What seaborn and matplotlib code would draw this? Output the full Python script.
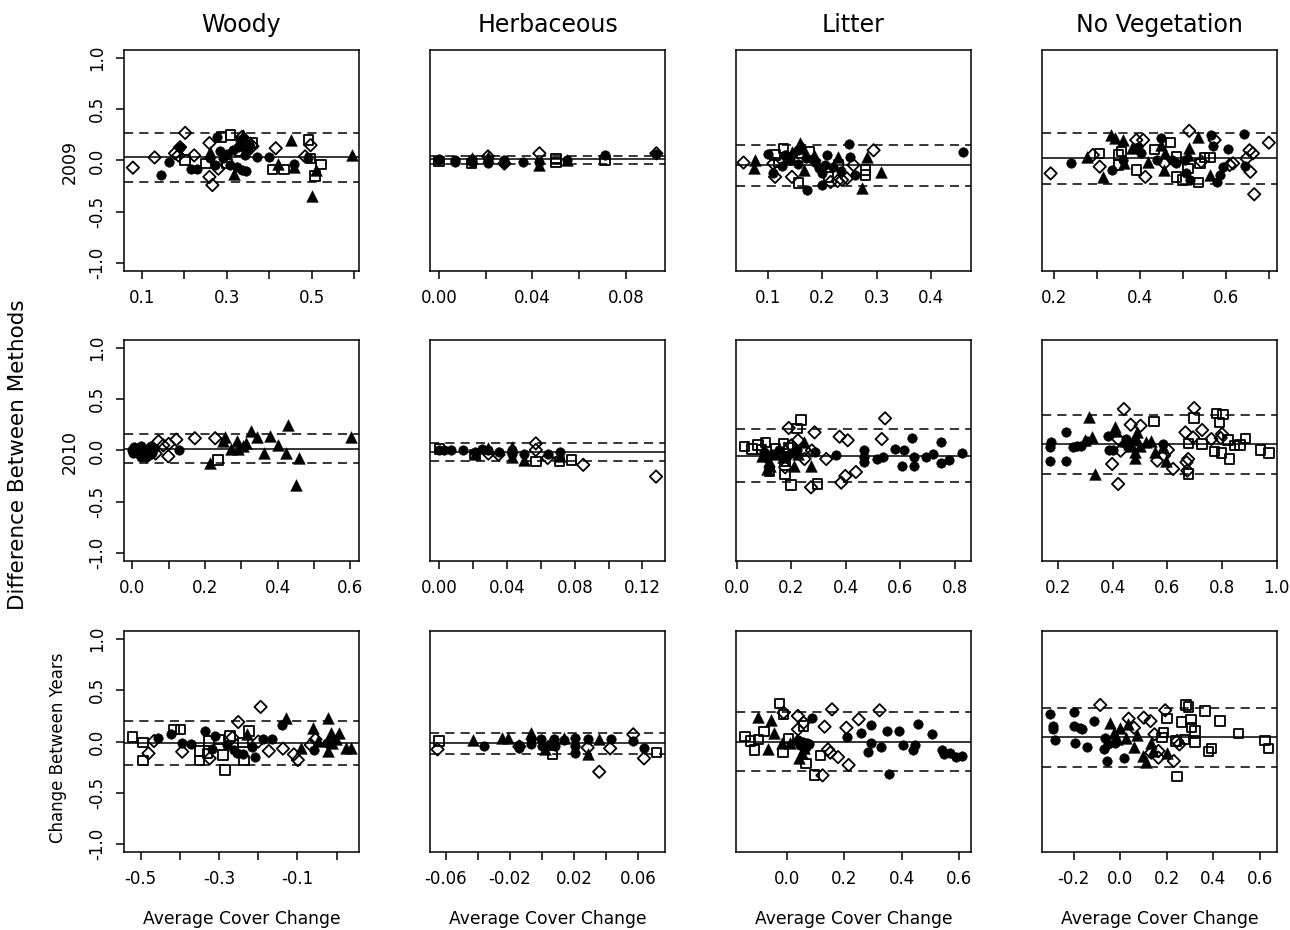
import numpy as np
import pandas as pd
import matplotlib
matplotlib.use("Agg")
import matplotlib.pyplot as plt
import seaborn as sns

# ---------------- labels ----------------
cover_types = ["Woody", "Herbaceous", "Litter", "No Vegetation"]
row_labels = ["2009", "2010", "Change Between Years"]
y_label = "Difference Between Methods"
x_label = "Average Cover Change"

# ---------------- data (average, difference) ----------------
# Row 1: 2009
W09_circles = [(0.146,-0.14),(0.165,-0.01),(0.189,0.13),(0.215,-0.08),(0.229,-0.08),(0.272,-0.045),(0.284,0.09),
               (0.292,0.02),(0.308,-0.045),(0.323,-0.06),(0.335,-0.09),(0.327,0.135),(0.343,0.054),(0.331,0.20),
               (0.370,0.03),(0.400,0.03),(0.457,-0.03),(0.492,0.02),(0.278,0.23),(0.30,0.06),(0.315,0.10),
               (0.35,0.10),(0.26,0.02),(0.345,-0.10)]
W09_triangles = [(0.316,-0.13),(0.339,0.25),(0.421,-0.03),(0.450,0.20),(0.457,-0.06),(0.51,-0.09),(0.501,-0.35),
                 (0.594,0.054),(0.34,0.15),(0.355,0.18),(0.26,0.08)]
W09_squares = [(0.202,0.005),(0.251,-0.03),(0.288,0.23),(0.308,0.25),(0.300,-0.03),(0.359,0.17),(0.407,-0.09),
               (0.435,-0.09),(0.492,0.20),(0.497,0.02),(0.507,-0.15),(0.522,-0.04),(0.33,0.09)]
W09_diamonds = [(0.079,-0.07),(0.130,0.03),(0.178,0.07),(0.19,0.13),(0.202,0.27),(0.186,0.05),(0.223,0.05),
                (0.259,0.17),(0.259,-0.16),(0.266,-0.24),(0.336,0.23),(0.36,0.14),(0.415,0.12),(0.484,0.04),
                (0.497,0.15),(0.28,-0.08)]

H09_circles = [(0.0,0.0),(0.007,0.0),(0.014,0.01),(0.021,0.01),(0.028,-0.02),(0.036,-0.01),(0.043,-0.01),
               (0.055,0.0),(0.071,0.05),(0.093,0.06),(0.0,0.01),(0.007,-0.01),(0.014,-0.01),(0.021,-0.02),(0.028,0.0)]
H09_triangles = [(0.043,-0.04),(0.055,0.0),(0.021,0.03),(0.014,0.02)]
H09_squares = [(0.014,-0.03),(0.050,-0.02),(0.050,0.02),(0.071,0.0),(0.0,-0.01)]
H09_diamonds = [(0.043,0.07),(0.093,0.07),(0.021,0.04),(0.028,-0.03)]

L09_circles = [(0.1,0.06),(0.110,-0.125),(0.132,0.054),(0.156,0.10),(0.172,-0.29),(0.156,-0.03),(0.187,-0.01),
               (0.193,-0.077),(0.199,-0.125),(0.208,0.054),(0.205,-0.044),(0.199,-0.24),(0.249,0.16),(0.251,0.037),
               (0.259,-0.14),(0.458,0.086),(0.14,0.0),(0.17,0.02),(0.22,-0.06),(0.235,-0.10),(0.125,-0.05)]
L09_triangles = [(0.077,0.005),(0.075,-0.077),(0.159,0.17),(0.166,-0.093),(0.184,0.054),(0.229,0.037),
                 (0.282,0.037),(0.273,-0.27),(0.308,-0.115),(0.145,0.08),(0.165,0.12)]
L09_squares = [(0.113,0.054),(0.129,0.12),(0.162,0.07),(0.156,-0.22),(0.211,-0.16),(0.230,-0.044),(0.279,-0.093),
               (0.279,-0.14),(0.12,-0.02),(0.175,0.09)]
L09_diamonds = [(0.055,-0.02),(0.110,-0.03),(0.113,-0.16),(0.144,-0.16),(0.215,-0.21),(0.236,-0.19),(0.245,-0.175),
                (0.257,-0.044),(0.294,0.10),(0.228,-0.20),(0.185,0.0),(0.135,0.03)]

N09_circles = [(0.241,-0.02),(0.336,-0.093),(0.361,0.005),(0.396,0.135),(0.404,0.07),(0.439,0.005),(0.450,0.22),
               (0.474,0.005),(0.485,-0.028),(0.505,0.005),(0.507,-0.126),(0.516,-0.19),(0.565,0.25),(0.571,0.14),
               (0.580,-0.21),(0.586,-0.14),(0.594,-0.06),(0.604,0.11),(0.643,0.26),(0.644,-0.054)]
N09_triangles = [(0.278,0.03),(0.315,-0.16),(0.334,0.25),(0.343,0.22),(0.361,0.20),(0.364,-0.028),(0.382,0.12),
                 (0.419,-0.01),(0.450,0.15),(0.458,0.07),(0.457,-0.093),(0.515,0.12),(0.512,0.054),(0.536,0.226),
                 (0.564,-0.14)]
N09_squares = [(0.307,0.07),(0.350,0.054),(0.350,-0.044),(0.357,0.086),(0.392,-0.093),(0.435,0.11),(0.472,0.174),
               (0.485,0.037),(0.485,-0.16),(0.501,-0.19),(0.512,-0.077),(0.536,-0.217),(0.540,-0.028),(0.551,0.03),
               (0.563,0.03)]
N09_diamonds = [(0.193,-0.126),(0.291,0.054),(0.307,-0.06),(0.392,0.20),(0.408,0.20),(0.413,-0.16),(0.457,-0.028),
                (0.515,0.29),(0.543,-0.01),(0.574,0.20),(0.609,-0.044),(0.617,-0.028),(0.648,0.02),(0.655,0.10),
                (0.663,0.07),(0.657,-0.11),(0.666,-0.33),(0.700,0.174)]

# Row 2: 2010
W10_circles = [(0.0,0.0),(0.005,0.03),(0.014,-0.02),(0.023,0.047),(0.028,-0.034),(0.037,-0.067),(0.041,0.015),
               (0.050,0.047),(0.055,-0.02),(0.018,0.015),(0.003,-0.02),(0.032,0.0),(0.045,-0.04),(0.01,0.005),
               (0.06,0.02),(0.025,-0.06),(0.128,0.0)]
W10_triangles = [(0.213,-0.125),(0.255,0.13),(0.25,0.09),(0.271,0.015),(0.289,0.09),(0.292,0.015),(0.314,0.07),
                 (0.328,0.19),(0.342,0.13),(0.363,-0.024),(0.379,0.145),(0.4,0.054),(0.422,-0.024),(0.429,0.25),
                 (0.459,-0.073),(0.45,-0.337),(0.601,0.13),(0.305,0.04)]
W10_squares = [(0.236,-0.093)]
W10_diamonds = [(0.072,0.09),(0.064,-0.03),(0.10,0.064),(0.099,-0.057),(0.121,0.106),(0.172,0.12),(0.228,0.12),
                (0.085,0.05)]

H10_circles = [(0.0,0.0),(0.007,0.0),(0.014,0.0),(0.021,-0.01),(0.029,0.0),(0.035,-0.01),(0.043,-0.03),(0.050,-0.03),
               (0.064,-0.03),(0.071,-0.01),(0.043,0.0),(0.003,0.005),(0.025,0.01)]
H10_triangles = [(0.021,-0.03),(0.029,0.02),(0.043,0.03),(0.050,-0.093),(0.071,-0.05),(0.043,-0.06)]
H10_squares = [(0.0,0.015),(0.057,-0.11),(0.071,-0.11),(0.078,-0.093),(0.021,-0.04)]
H10_diamonds = [(0.057,0.07),(0.057,0.005),(0.064,-0.073),(0.085,-0.14),(0.128,-0.255),(0.035,-0.04),(0.029,-0.03)]

L10_circles = [(0.098,-0.018),(0.128,-0.034),(0.153,0.0),(0.183,-0.05),(0.22,0.0),(0.287,-0.018),(0.365,-0.04),
               (0.465,0.0),(0.465,-0.06),(0.465,-0.115),(0.514,-0.083),(0.535,-0.06),(0.579,0.015),(0.614,0.0),
               (0.608,-0.155),(0.642,0.122),(0.651,-0.066),(0.651,-0.155),(0.694,-0.066),(0.722,-0.034),(0.75,0.08),
               (0.75,-0.122),(0.779,-0.093),(0.828,-0.024),(0.11,-0.07),(0.2,-0.02)]
L10_triangles = [(0.092,-0.05),(0.116,-0.099),(0.122,-0.148),(0.11,-0.18),(0.208,-0.148),(0.208,0.015),(0.245,0.08),
                 (0.273,-0.148),(0.226,-0.034),(0.14,-0.03),(0.17,-0.06)]
L10_squares = [(0.028,0.037),(0.055,0.015),(0.077,0.054),(0.104,0.08),(0.141,0.015),(0.171,0.064),(0.119,-0.2),
               (0.177,-0.236),(0.199,-0.336),(0.22,0.216),(0.235,0.3),(0.296,-0.327),(0.177,-0.106),(0.19,0.03),
               (0.09,0.01)]
L10_diamonds = [(0.19,0.22),(0.224,0.1),(0.285,0.177),(0.248,0.005),(0.248,-0.083),(0.275,0.0),(0.177,-0.164),
                (0.328,-0.083),(0.377,0.135),(0.407,0.1),(0.398,-0.249),(0.383,-0.314),(0.437,-0.21),(0.272,-0.36),
                (0.532,0.112),(0.544,0.314),(0.2,0.05)]

N10_circles = [(0.176,0.08),(0.172,0.03),(0.172,-0.106),(0.23,0.177),(0.23,-0.106),(0.255,0.03),(0.285,0.047),
               (0.307,0.096),(0.383,0.145),(0.385,0.005),(0.401,0.005),(0.45,0.112),(0.48,0.096),(0.584,0.063),
               (0.27,0.04)]
N10_triangles = [(0.313,0.33),(0.326,0.135),(0.407,0.226),(0.41,0.187),(0.334,-0.229),(0.468,0.047),(0.48,-0.018),
                 (0.483,-0.073),(0.49,0.177),(0.523,0.08),(0.554,-0.018),(0.596,-0.099),(0.584,0.03),(0.541,0.096),
                 (0.444,0.09),(0.3,0.1),(0.46,0.06),(0.5,0.04)]
N10_squares = [(0.551,0.281),(0.698,0.317),(0.678,0.07),(0.678,-0.229),(0.727,0.063),(0.779,0.363),(0.804,0.35),
               (0.791,0.275),(0.773,-0.008),(0.798,-0.024),(0.828,-0.083),(0.822,0.103),(0.846,0.047),(0.865,0.054),
               (0.885,0.119),(0.941,0.005),(0.971,-0.024)]
N10_diamonds = [(0.42,0.112),(0.429,-0.002),(0.398,-0.132),(0.42,-0.327),(0.441,0.405),(0.466,0.252),(0.502,0.242),
                (0.563,-0.099),(0.588,-0.05),(0.602,0.005),(0.621,-0.18),(0.666,0.177),(0.698,0.415),(0.694,0.128),
                (0.727,0.2),(0.676,-0.083),(0.67,-0.115),(0.673,-0.197),(0.761,0.112),(0.8,0.161),(0.795,0.122)]

# Row 3: change between years
WC_circles = [(-0.457,0.031),(-0.423,0.077),(-0.394,-0.011),(-0.372,-0.021),(-0.336,0.103),(-0.31,0.054),
              (-0.319,-0.077),(-0.279,-0.034),(-0.262,-0.086),(-0.253,-0.109),(-0.24,-0.126),(-0.217,-0.054),
              (-0.208,-0.152),(-0.188,0.021),(-0.164,0.021),(-0.139,0.161),(-0.058,-0.086),(-0.024,-0.011)]
WC_triangles = [(-0.228,0.077),(-0.13,0.233),(-0.092,-0.067),(-0.06,0.129),(-0.047,0.005),(-0.021,0.227),
                (-0.021,-0.093),(-0.015,0.087),(0.006,0.087),(-0.011,-0.011),(0.025,-0.06),(0.036,-0.06),(-0.002,0.021)]
WC_squares = [(-0.521,0.044),(-0.494,-0.011),(-0.494,-0.184),(-0.415,0.119),(-0.398,0.119),(-0.35,-0.093),
              (-0.35,-0.184),(-0.326,0.005),(-0.3,0.021),(-0.29,-0.132),(-0.285,-0.279),(-0.272,0.054),
              (-0.236,-0.184),(-0.224,0.103),(-0.239,-0.011),(-0.33,-0.12)]
WC_diamonds = [(-0.48,-0.116),(-0.466,0.005),(-0.394,-0.1),(-0.324,-0.165),(-0.266,0.038),(-0.251,0.19),
               (-0.194,0.338),(-0.173,-0.093),(-0.137,-0.07),(-0.109,-0.126),(-0.099,-0.181),(-0.066,-0.034),
               (-0.054,0.021),(-0.2,0.0)]

HC_circles = [(-0.036,-0.044),(-0.014,-0.034),(-0.007,0.021),(-0.007,-0.028),(-0.0004,0.021),(0.0,-0.044),
              (0.0075,0.021),(0.008,-0.044),(0.014,0.011),(0.021,0.038),(0.021,-0.044),(0.0286,0.021),(0.043,0.021),
              (0.057,0.005),(0.0637,-0.067),(-0.014,-0.06),(0.005,-0.02),(0.021,-0.109)]
HC_triangles = [(-0.043,0.015),(-0.025,0.031),(-0.021,0.031),(-0.007,0.086),(0.0017,-0.077),(0.0286,-0.126),
                (0.0358,0.021),(0.014,0.03)]
HC_squares = [(-0.064,0.005),(0.0068,-0.126),(0.0714,-0.109)]
HC_diamonds = [(-0.065,-0.077),(0.0286,-0.06),(0.0358,-0.296),(0.0426,-0.067),(0.057,0.07),(0.0637,-0.165),
               (-0.014,-0.05)]

LC_circles = [(0.07,-0.011),(0.087,0.233),(0.209,0.044),(0.259,0.087),(0.294,0.161),(0.294,-0.011),(0.282,-0.099),
              (0.328,-0.054),(0.348,0.103),(0.357,-0.315),(0.392,0.103),(0.406,-0.034),(0.441,-0.086),(0.447,-0.034),
              (0.456,0.175),(0.505,0.077),(0.54,-0.083),(0.548,-0.126),(0.569,-0.109),(0.588,-0.148),(0.612,-0.142),
              (0.045,-0.03),(0.055,0.0),(0.065,-0.05),(0.04,0.01),(0.075,-0.02)]
LC_triangles = [(-0.101,0.24),(-0.055,0.21),(-0.046,0.087),(-0.066,-0.07),(-0.017,-0.018),(0.041,-0.158),
                (0.052,-0.109),(0.035,0.021),(0.012,-0.011),(0.058,-0.06)]
LC_squares = [(-0.147,0.047),(-0.128,0.005),(-0.113,-0.083),(-0.081,0.096),(-0.027,0.373),(-0.012,0.266),
              (-0.014,-0.109),(0.006,0.028),(0.058,0.152),(0.066,-0.213),(0.116,-0.135),(0.096,-0.327),(-0.099,0.021)]
LC_diamonds = [(-0.012,0.282),(0.038,0.25),(0.058,0.184),(0.038,0.119),(0.131,0.145),(0.157,0.314),(0.143,-0.077),
               (0.151,-0.109),(0.178,-0.152),(0.215,-0.23),(0.124,-0.331),(0.207,0.135),(0.25,0.217),(0.323,0.305)]

NC_circles = [(-0.3,0.266),(-0.289,0.152),(-0.289,0.119),(-0.279,0.015),(-0.199,0.289),(-0.199,0.152),
              (-0.193,-0.011),(-0.174,0.135),(-0.164,0.119),(-0.143,-0.054),(-0.113,0.201),(-0.07,-0.077),
              (-0.056,-0.191),(0.016,-0.165),(-0.024,-0.011),(-0.053,-0.028),(-0.067,0.037)]
NC_triangles = [(-0.046,0.184),(-0.027,0.087),(0.001,0.135),(0.026,0.037),(0.059,-0.054),(0.073,0.064),(0.033,0.168),
                (-0.013,0.021),(0.097,-0.142),(0.111,-0.2),(0.133,-0.011),(0.14,-0.093),(0.2,-0.109)]
NC_squares = [(0.186,0.087),(0.18,0.037),(0.201,0.227),(0.24,0.005),(0.244,-0.344),(0.264,0.19),(0.283,0.357),
              (0.293,0.337),(0.304,0.217),(0.307,0.135),(0.321,0.103),(0.321,-0.011),(0.276,0.021),(0.364,0.298),
              (0.379,-0.099),(0.393,-0.07),(0.429,0.201),(0.507,0.08),(0.621,0.011),(0.636,-0.07)]
NC_diamonds = [(-0.086,0.357),(0.036,0.223),(0.059,0.135),(0.101,0.233),(0.13,0.2),(0.147,0.07),(0.133,-0.109),
               (0.164,-0.093),(0.164,-0.158),(0.193,0.305),(0.23,-0.191),(0.254,-0.028),(0.244,0.005)]

# mean difference and limits of agreement (row-major: 2009, 2010, change)
mean_diff = [0.031, 0.011, -0.047, 0.024,
             0.018, -0.018, -0.05, 0.063,
             -0.015, -0.018, -0.002, 0.041]
upper_loa = [0.272, 0.047, 0.152, 0.272,
             0.161, 0.073, 0.21, 0.35,
             0.20, 0.08, 0.292, 0.331]
lower_loa = [-0.207, -0.038, -0.25, -0.23,
             -0.122, -0.102, -0.306, -0.23,
             -0.23, -0.126, -0.289, -0.246]

# x ticks / labels per panel ('' = tick without label)
x_ticks = [
    [0.1, 0.2, 0.3, 0.4, 0.5, 0.6], [0.0, 0.02, 0.04, 0.06, 0.08], [0.1, 0.2, 0.3, 0.4], [0.2, 0.3, 0.4, 0.5, 0.6, 0.7],
    [0.0, 0.1, 0.2, 0.3, 0.4, 0.5, 0.6], [0.0, 0.02, 0.04, 0.06, 0.08, 0.10, 0.12], [0.0, 0.2, 0.4, 0.6, 0.8], [0.2, 0.4, 0.6, 0.8, 1.0],
    [-0.5, -0.4, -0.3, -0.2, -0.1, 0.0], [-0.06, -0.04, -0.02, 0.0, 0.02, 0.04, 0.06], [0.0, 0.2, 0.4, 0.6], [-0.2, 0.0, 0.2, 0.4, 0.6],
]
x_ticklabels = [
    ["0.1", "", "0.3", "", "0.5", ""], ["0.00", "", "0.04", "", "0.08"], ["0.1", "0.2", "0.3", "0.4"], ["0.2", "", "0.4", "", "0.6", ""],
    ["0.0", "", "0.2", "", "0.4", "", "0.6"], ["0.00", "", "0.04", "", "0.08", "", "0.12"], ["0.0", "0.2", "0.4", "0.6", "0.8"], ["0.2", "0.4", "0.6", "0.8", "1.0"],
    ["-0.5", "", "-0.3", "", "-0.1", ""], ["-0.06", "", "-0.02", "", "0.02", "", "0.06"], ["0.0", "0.2", "0.4", "0.6"], ["-0.2", "0.0", "0.2", "0.4", "0.6"],
]
x_limits = [
    (0.058, 0.611), (-0.0038, 0.0967), (0.0412, 0.473), (0.1729, 0.719),
    (-0.023, 0.624), (-0.0055, 0.1333), (-0.0037, 0.86), (0.1415, 1.001),
    (-0.5425, 0.057), (-0.0697, 0.0768), (-0.178, 0.642), (-0.336, 0.673),
]
y_ticks = [-1.0, -0.5, 0.0, 0.5, 1.0]
y_ticklabels = ["-1.0", "-0.5", "0.0", "0.5", "1.0"]

panel_points = [
    [W09_circles, W09_triangles, W09_squares, W09_diamonds],
    [H09_circles, H09_triangles, H09_squares, H09_diamonds],
    [L09_circles, L09_triangles, L09_squares, L09_diamonds],
    [N09_circles, N09_triangles, N09_squares, N09_diamonds],
    [W10_circles, W10_triangles, W10_squares, W10_diamonds],
    [H10_circles, H10_triangles, H10_squares, H10_diamonds],
    [L10_circles, L10_triangles, L10_squares, L10_diamonds],
    [N10_circles, N10_triangles, N10_squares, N10_diamonds],
    [WC_circles, WC_triangles, WC_squares, WC_diamonds],
    [HC_circles, HC_triangles, HC_squares, HC_diamonds],
    [LC_circles, LC_triangles, LC_squares, LC_diamonds],
    [NC_circles, NC_triangles, NC_squares, NC_diamonds],
]

# ---------------- style ----------------
sns.set_theme(style="white")
plt.rcParams['font.family'] = ['DejaVu Sans']
plt.rcParams['axes.unicode_minus'] = False
plt.rcParams['text.color'] = 'black'
plt.rcParams['axes.labelcolor'] = 'black'
plt.rcParams['xtick.color'] = 'black'
plt.rcParams['ytick.color'] = 'black'

marker_styles = [
    dict(marker="o", s=48, color="black", edgecolor="black", linewidth=0.3),
    dict(marker="^", s=72, color="black", edgecolor="black", linewidth=0.3),
    dict(marker="s", s=46, facecolors="none", edgecolor="black", linewidth=1.3),
    dict(marker="D", s=40, facecolors="none", edgecolor="black", linewidth=1.3),
]

W, H = 1290, 930
fig = plt.figure(figsize=(W / 100, H / 100), dpi=100)
col_left = [124, 430, 736, 1042]
row_top = [50, 340, 631]
box_w, box_h = 235, 221

for r in range(3):
    for c in range(4):
        k = r * 4 + c
        ax = fig.add_axes([col_left[c] / W, 1 - (row_top[r] + box_h) / H, box_w / W, box_h / H])
        for pts, st in zip(panel_points[k], marker_styles):
            df = pd.DataFrame(pts, columns=["avg", "diff"])
            sns.scatterplot(data=df, x="avg", y="diff", ax=ax, legend=False, **st)
        ax.axhline(mean_diff[k], color="black", lw=1.1, zorder=1)
        ax.axhline(upper_loa[k], color="black", lw=1.1, dashes=(6, 4), zorder=1)
        ax.axhline(lower_loa[k], color="black", lw=1.1, dashes=(6, 4), zorder=1)
        ax.set_xlim(*x_limits[k])
        ax.set_ylim(-1.08, 1.08)
        ax.set_xlabel("")
        ax.set_ylabel("")
        ax.set_xticks(x_ticks[k])
        ax.set_xticklabels(x_ticklabels[k], fontsize=12, color="black")
        ax.tick_params(axis="x", direction="out", length=6, width=1.1, pad=7, colors="black", bottom=True)
        if c == 0:
            ax.set_yticks(y_ticks)
            ax.set_yticklabels(y_ticklabels, fontsize=12, rotation=90, va="center", color="black")
            ax.tick_params(axis="y", direction="out", length=6, width=1.1, pad=7, colors="black", left=True)
        else:
            ax.set_yticks([])
        for sp in ax.spines.values():
            sp.set_color("black")
            sp.set_linewidth(1.1)
        ax.grid(False)
        cx = (col_left[c] + box_w / 2) / W
        if r == 0:
            fig.text(cx, 1 - 25 / H, cover_types[c], ha="center", va="center", fontsize=17, color="black")
        if r == 2:
            fig.text(cx, 1 - 919 / H, x_label, ha="center", va="center", fontsize=12.3, color="black")

row_cy = [162, 452, 748]
fig.text(70 / W, 1 - row_cy[0] / H, row_labels[0], rotation=90, ha="center", va="center", fontsize=12.5, color="black")
fig.text(70 / W, 1 - row_cy[1] / H, row_labels[1], rotation=90, ha="center", va="center", fontsize=12.5, color="black")
fig.text(58 / W, 1 - row_cy[2] / H, row_labels[2], rotation=90, ha="center", va="center", fontsize=12, color="black")
fig.text(18 / W, 1 - 455 / H, y_label, rotation=90, ha="center", va="center", fontsize=15.5, color="black")

fig.savefig("out.png", dpi=100, facecolor="white")
